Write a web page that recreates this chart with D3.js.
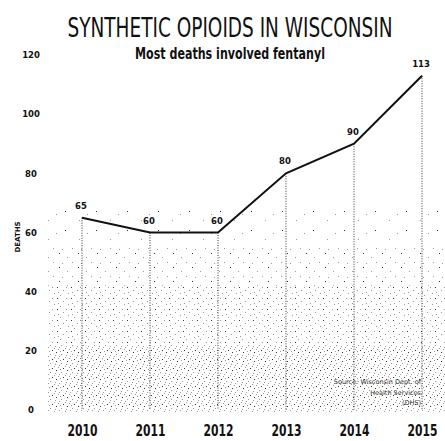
<!DOCTYPE html>
<html><head><meta charset="utf-8">
<script src="https://cdn.jsdelivr.net/npm/d3@7"></script>
<style>
html,body{margin:0;padding:0;background:#fff;}
svg{display:block;}
</style></head>
<body>
<script>
const years = [2010, 2011, 2012, 2013, 2014, 2015];
const deaths = [65, 60, 60, 80, 90, 113];
const yTicks = [0, 20, 40, 60, 80, 100, 120];
const yearLabels = ["2010", "2011", "2012", "2013", "2014", "2015"];
const title = "SYNTHETIC OPIOIDS IN WISCONSIN";
const subtitle = "Most deaths involved fentanyl";
const yAxisTitle = "DEATHS";
const sourceLines = ["Source: Wisconsin Dept. of", "Health Services", "(DHS)"];

const W = 445, H = 441;
const svg = d3.select("body").append("svg").attr("width", W).attr("height", H);
const defs = svg.append("defs");

const x = d3.scaleLinear().domain([2010, 2015]).range([82, 422]);
const y = d3.scaleLinear().domain([0, 120]).range([410, 55]);

const fam = "'DejaVu Sans',sans-serif";

// place a text horizontally condensed to a target width
function condensedText(parent, str, cx, by, size, target, weight) {
  const t = parent.append("text").attr("x", 0).attr("y", 0).attr("text-anchor", "middle")
    .attr("font-family", fam).attr("font-size", size).attr("font-weight", weight || "normal")
    .attr("fill", "#111").text(str);
  const w = t.node().getComputedTextLength();
  const sx = w > 0 ? target / w : 1;
  t.attr("transform", `translate(${cx},${by}) scale(${sx.toFixed(3)},1)`);
  return t;
}

// stipple texture patterns (decorative)
function makePattern(id, w, h, dots) {
  const p = defs.append("pattern").attr("id", id).attr("patternUnits", "userSpaceOnUse")
    .attr("width", w).attr("height", h);
  dots.forEach(d => p.append("rect").attr("x", d[0]).attr("y", d[1]).attr("width", 1).attr("height", 1)
    .attr("fill", d[2] ? "#333" : "#999"));
}
makePattern("st1", 31, 19, [[3,2,1],[17,11,0],[25,5,0]]);
makePattern("st2", 19, 14, [[2,1,1],[10,5,0],[15,10,0],[5,11,0]]);
makePattern("st3", 14, 11, [[1,1,1],[7,4,0],[12,7,0],[4,9,0],[10,1,0],[2,6,0]]);
makePattern("st4", 11, 9, [[1,1,1],[6,3,0],[10,6,0],[3,7,0],[8,8,1],[0,4,0],[5,0,0],[4,5,0]]);

const stip = svg.append("g");
const bands = [[y(68), y(56), "st1"], [y(56), y(42), "st2"], [y(42), y(22), "st3"], [y(22), y(0) + 2, "st4"]];
bands.forEach(b => stip.append("rect").attr("x", 48).attr("y", b[0]).attr("width", W - 48)
  .attr("height", b[1] - b[0]).attr("fill", `url(#${b[2]})`));

// title & subtitle
condensedText(svg, title, 230, 37, 26, 325, "normal");
condensedText(svg, subtitle, 230, 59, 15, 190, "bold");

// y axis labels
const yAxis = d3.axisLeft(y).tickValues(yTicks).tickSize(0).tickPadding(0);
const gy = svg.append("g").attr("transform", "translate(36,0)").call(yAxis);
gy.select(".domain").remove();
gy.selectAll("text").attr("font-family", fam).attr("font-size", 8.5)
  .attr("font-weight", "bold").attr("fill", "#111").attr("text-anchor", "middle").attr("x", -5);

svg.append("text").attr("transform", "translate(20,237) rotate(-90)").attr("text-anchor", "middle")
  .attr("font-family", fam).attr("font-size", 7).attr("font-weight", "bold")
  .attr("fill", "#111").text(yAxisTitle);

// x axis labels (years)
const xAxis = d3.axisBottom(x).tickValues(years).tickFormat((d, i) => yearLabels[i]).tickSize(0).tickPadding(0);
const gx = svg.append("g").attr("transform", "translate(0,420)").call(xAxis);
gx.select(".domain").remove();
gx.selectAll(".tick").each(function (d, i) {
  const g = d3.select(this);
  g.select("text").remove();
  condensedText(g, yearLabels[i], 0, 16, 16, 30, "bold");
});

const data = years.map((yr, i) => ({ yr, v: deaths[i] }));

// dotted drop lines
svg.append("g").selectAll("line").data(data).join("line")
  .attr("x1", d => x(d.yr)).attr("x2", d => x(d.yr))
  .attr("y1", d => y(d.v)).attr("y2", y(0))
  .attr("stroke", "#333").attr("stroke-width", 1).attr("stroke-dasharray", "1,1.5");

// line
svg.append("path").datum(data)
  .attr("d", d3.line().x(d => x(d.yr)).y(d => y(d.v)))
  .attr("fill", "none").attr("stroke", "#111").attr("stroke-width", 2);

// value labels
svg.append("g").selectAll("text").data(data).join("text")
  .attr("x", d => x(d.yr) - 1).attr("y", d => y(d.v) - 9)
  .attr("text-anchor", "middle").attr("font-family", fam)
  .attr("font-size", 8.5).attr("font-weight", "bold").attr("fill", "#111").text(d => d.v);

// source
svg.append("g").selectAll("text").data(sourceLines).join("text")
  .attr("x", 421).attr("y", (d, i) => 384 + i * 10.5).attr("text-anchor", "end")
  .attr("font-family", fam).attr("font-size", 6.5).attr("fill", "#333").text(d => d);
</script>
</body></html>
